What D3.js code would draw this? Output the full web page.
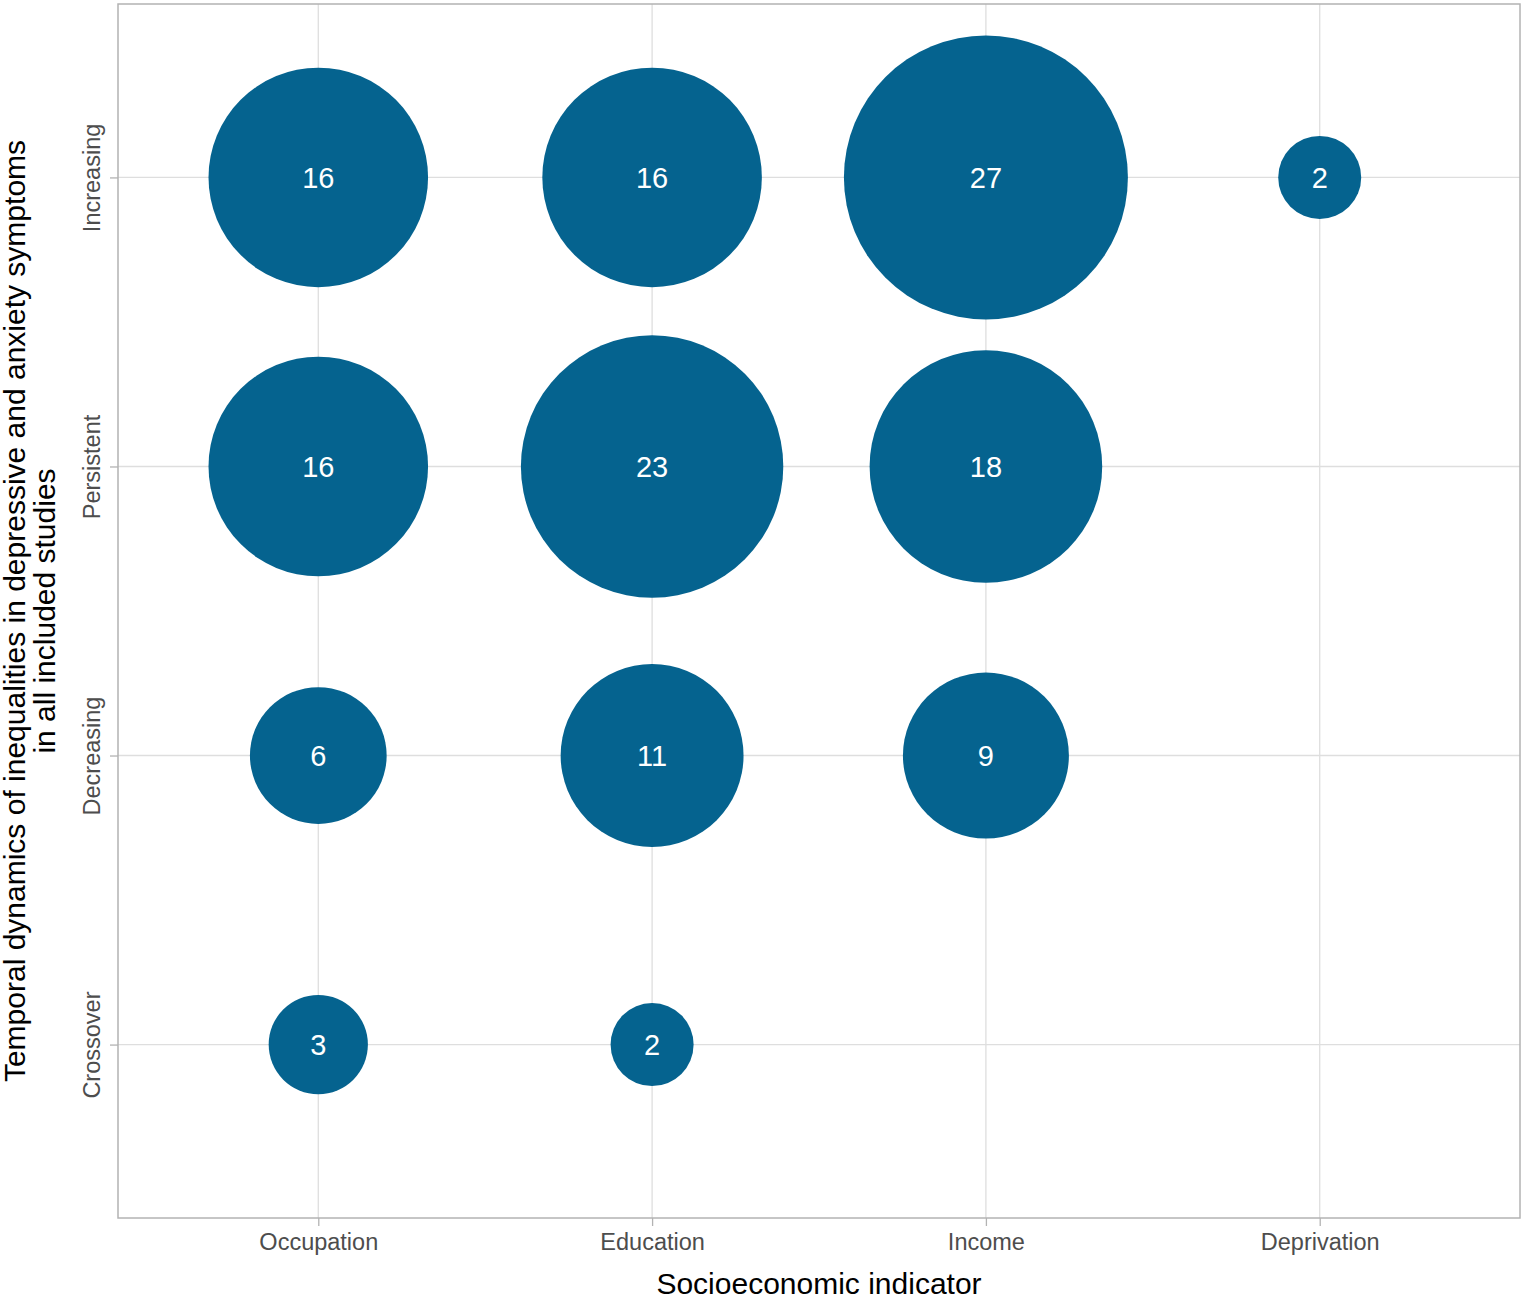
<!DOCTYPE html>
<html>
<head>
<meta charset="utf-8">
<script src="https://cdn.jsdelivr.net/npm/d3@7"></script>
<style>
  body { margin: 0; background: #fff; }
  text { font-family: "Liberation Sans", Arial, sans-serif; }
</style>
</head>
<body>
<div class="chart"></div>
<script>
const WIDTH = 1524;
const HEIGHT = 1298;
const PANEL = {left: 118, right: 1520, top: 4, bottom: 1218};

// data
const indicators = ['Occupation', 'Education', 'Income', 'Deprivation'];
const trends = ['Increasing', 'Persistent', 'Decreasing', 'Crossover'];
// counts per indicator, in the order of trends (null = no study)
const occupation = [16, 16, 6, 3];
const education = [16, 23, 11, 2];
const income = [27, 18, 9, null];
const deprivation = [2, null, null, null];

const counts = [occupation, education, income, deprivation];

var points = [];
counts.forEach(function(col, i) {
  col.forEach(function(v, j) {
    if (v != null) points.push({indicator: indicators[i], trend: trends[j], n: v});
  });
});

var translate = function(x, y) {
  return 'translate(' + x + ',' + y + ')';
};

var xScale = d3.scalePoint()
  .domain(indicators)
  .range([PANEL.left, PANEL.right])
  .padding(0.6);

var yScale = d3.scalePoint()
  .domain(trends)
  .range([PANEL.top, PANEL.bottom])
  .padding(0.6);

// ggplot style size scale: area linear in value
var rScale = d3.scaleRadial()
  .domain([2, 27])
  .range([41.5, 142]);

var svg = d3.select('.chart').append('svg')
  .attr('width', WIDTH)
  .attr('height', HEIGHT);

// grid
svg.append('g').selectAll('line').data(indicators)
  .enter().append('line')
  .attr('x1', function(d) { return xScale(d); })
  .attr('x2', function(d) { return xScale(d); })
  .attr('y1', PANEL.top).attr('y2', PANEL.bottom)
  .attr('stroke', '#dedede').attr('stroke-width', 1.3);

svg.append('g').selectAll('line').data(trends)
  .enter().append('line')
  .attr('y1', function(d) { return yScale(d); })
  .attr('y2', function(d) { return yScale(d); })
  .attr('x1', PANEL.left).attr('x2', PANEL.right)
  .attr('stroke', '#dedede').attr('stroke-width', 1.3);

// axes
var xAxis = d3.axisBottom(xScale).tickSize(8).tickPadding(4);
var yAxis = d3.axisLeft(yScale).tickSize(8).tickPadding(6);

var gx = svg.append('g')
  .attr('transform', translate(0, PANEL.bottom))
  .call(xAxis);
var gy = svg.append('g')
  .attr('transform', translate(PANEL.left, 0))
  .call(yAxis);

[gx, gy].forEach(function(g) {
  g.select('.domain').remove();
  g.selectAll('.tick line').attr('stroke', '#b3b3b3').attr('stroke-width', 1.3);
  g.selectAll('.tick text')
    .attr('fill', '#4d4d4d')
    .style('font-size', '23.5px')
    .style('font-family', '"Liberation Sans", Arial, sans-serif');
});

gx.selectAll('.tick text').attr('dy', '0.85em');

gy.selectAll('.tick text')
  .attr('x', null)
  .attr('text-anchor', 'middle')
  .attr('transform', 'translate(-18,0) rotate(-90)')
  .attr('y', 0)
  .attr('dy', '0');

// bubbles
var g = svg.append('g');
g.selectAll('circle').data(points)
  .enter().append('circle')
  .attr('cx', function(d) { return xScale(d.indicator); })
  .attr('cy', function(d) { return yScale(d.trend); })
  .attr('r', function(d) { return rScale(d.n); })
  .attr('fill', '#05638f');

g.selectAll('text').data(points)
  .enter().append('text')
  .attr('x', function(d) { return xScale(d.indicator); })
  .attr('y', function(d) { return yScale(d.trend); })
  .attr('dy', '0.36em')
  .attr('text-anchor', 'middle')
  .attr('fill', '#fff')
  .style('font-size', '29px')
  .text(function(d) { return d.n; });

// panel border
svg.append('rect')
  .attr('x', PANEL.left).attr('y', PANEL.top)
  .attr('width', PANEL.right - PANEL.left)
  .attr('height', PANEL.bottom - PANEL.top)
  .attr('fill', 'none')
  .attr('stroke', '#b3b3b3').attr('stroke-width', 1.5);

// axis titles
svg.append('text')
  .attr('x', (PANEL.left + PANEL.right) / 2)
  .attr('y', 1294)
  .attr('text-anchor', 'middle')
  .attr('fill', '#000')
  .style('font-size', '30px')
  .text('Socioeconomic indicator');

var yTitle = svg.append('text')
  .attr('transform', translate(0, (PANEL.top + PANEL.bottom) / 2) + ' rotate(-90)')
  .attr('text-anchor', 'middle')
  .attr('fill', '#000')
  .style('font-size', '30px');
yTitle.append('tspan').attr('x', 0).attr('y', 25)
  .text('Temporal dynamics of inequalities in depressive and anxiety symptoms');
yTitle.append('tspan').attr('x', 0).attr('y', 55)
  .text('in all included studies');
</script>
</body>
</html>
